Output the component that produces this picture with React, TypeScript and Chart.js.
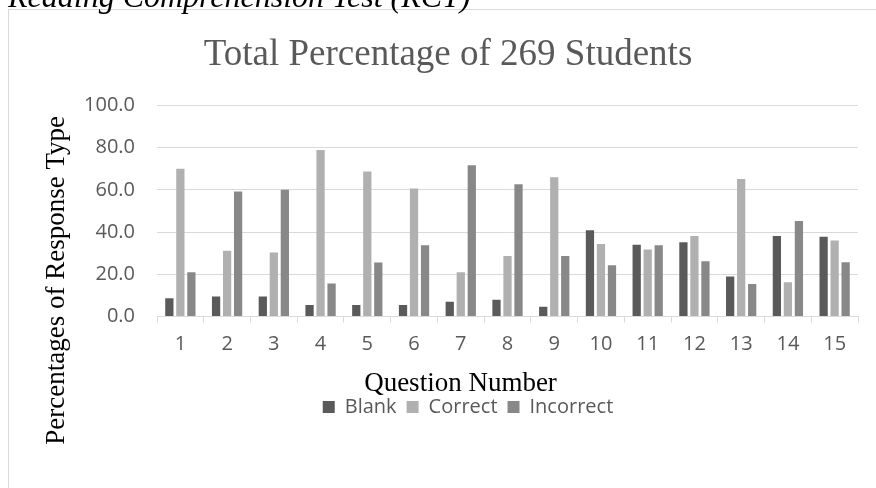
import { useEffect, useRef } from "react";
import { Chart, registerables } from "chart.js";

Chart.register(...registerables);

// ---- data ----
const questions = ["1", "2", "3", "4", "5", "6", "7", "8", "9", "10", "11", "12", "13", "14", "15"];
const blank = [8.7, 9.5, 9.5, 5.4, 5.4, 5.4, 7.0, 7.9, 4.6, 40.8, 34.0, 35.2, 19.0, 38.1, 37.8];
const correct = [70.0, 31.1, 30.3, 78.9, 68.7, 60.6, 21.0, 28.7, 66.0, 34.4, 31.7, 38.1, 65.1, 16.2, 36.0];
const incorrect = [21.0, 59.2, 60.0, 15.6, 25.6, 33.8, 71.7, 62.7, 28.7, 24.3, 33.7, 26.2, 15.4, 45.2, 25.7];
const seriesNames = ["Blank", "Correct", "Incorrect"];
const headerText = "Reading Comprehension Test (RCT)";
const chartTitle = "Total Percentage of 269 Students";
const xTitle = "Question Number";
const yTitle = "Percentages of Response Type";

// ---- styles ----
const colors = ["#5a5a5a", "#b0b0b0", "#888888"];
const gridColor = "#d9d9d9";
const textGray = "#595959";
const sans = '"Open Sans", "Noto Sans", sans-serif';
const serif = '"Liberation Serif", "Times New Roman", serif';

const PAD = { left: 38, right: 18, top: 0, bottom: 61 };
const LEGEND_SHIFT = 20;

const axisTitlesPlugin = {
  id: "axisTitlesCustom",
  afterLayout(chart: any) {
    if (chart.legend) {
      chart.legend.left += LEGEND_SHIFT;
      chart.legend.right += LEGEND_SHIFT;
    }
  },
  afterDraw(chart: any) {
    const { ctx, chartArea } = chart;
    ctx.save();
    ctx.fillStyle = "#000000";
    ctx.font = `27px ${serif}`;
    ctx.textAlign = "center";
    ctx.textBaseline = "middle";
    const cx = (chartArea.left + chartArea.right) / 2 - 47;
    ctx.fillText(xTitle, cx, chartArea.bottom + 67);
    ctx.translate(57, chartArea.top + 175);
    ctx.rotate(-Math.PI / 2);
    ctx.fillText(yTitle, 0, 0);
    ctx.restore();
  },
};

export default function App() {
  const ref = useRef<HTMLCanvasElement | null>(null);

  useEffect(() => {
    if (!ref.current) return;
    const chart = new Chart(ref.current, {
      type: "bar",
      data: {
        labels: questions,
        datasets: [blank, correct, incorrect].map((d, i) => ({
          label: seriesNames[i],
          data: d,
          backgroundColor: colors[i],
          borderWidth: 0,
          categoryPercentage: 0.707,
          barPercentage: 0.75,
        })),
      },
      options: {
        animation: false,
        responsive: false,
        devicePixelRatio: 1,
        layout: { padding: PAD },
        plugins: {
          title: {
            display: true,
            text: chartTitle,
            color: textGray,
            font: { family: serif, size: 37, weight: "normal", lineHeight: 1.2 },
            padding: { top: 33, bottom: 28 },
          },
          legend: {
            display: true,
            position: "bottom",
            labels: {
              color: textGray,
              font: { family: sans, size: 20 },
              boxWidth: 12,
              boxHeight: 12,
              padding: 10,
            },
          },
          tooltip: { enabled: false },
        },
        scales: {
          x: {
            grid: {
              display: true,
              drawOnChartArea: false,
              color: gridColor,
              tickLength: 6,
              offset: true,
            },
            border: { display: true, color: gridColor },
            ticks: {
              color: textGray,
              font: { family: sans, size: 20 },
              padding: 10,
              maxRotation: 0,
              autoSkip: false,
            },
            afterFit(scale: any) {
              scale.height = 70.5;
            },
          },
          y: {
            min: 0,
            max: 100,
            grid: { color: gridColor, drawTicks: false },
            border: { display: false },
            ticks: {
              stepSize: 20,
              color: textGray,
              font: { family: sans, size: 20 },
              padding: 22,
              callback: (v: any) => Number(v).toFixed(1),
            },
            afterFit(scale: any) {
              scale.width = 119;
            },
          },
        },
      },
      plugins: [axisTitlesPlugin],
    });
    return () => chart.destroy();
  }, []);

  return (
    <div
      style={{
        position: "fixed",
        left: 0,
        top: 0,
        width: 876,
        height: 488,
        overflow: "hidden",
        background: "#ffffff",
      }}
    >
      <div
        style={{
          position: "absolute",
          left: 8,
          top: 9,
          width: 1000,
          height: 1000,
          border: `1px solid ${gridColor}`,
          boxSizing: "border-box",
        }}
      />
      <canvas
        ref={ref}
        width={876}
        height={488}
        style={{ position: "absolute", left: 0, top: 0, width: 876, height: 488 }}
      />
      <div
        style={{
          position: "absolute",
          left: 8,
          top: -20,
          fontFamily: serif,
          fontStyle: "italic",
          fontSize: 32,
          lineHeight: "32px",
          whiteSpace: "nowrap",
          color: "#000000",
        }}
      >
        {headerText}
      </div>
    </div>
  );
}
